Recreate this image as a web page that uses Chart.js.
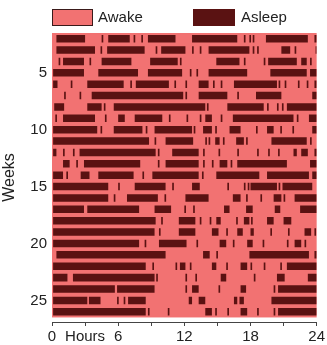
<!DOCTYPE html>
<html lang="en">
<head>
  <meta charset="UTF-8">
  <title>Sleep / Wake Actogram</title>
  <script src="https://cdn.jsdelivr.net/npm/chart.js"></script>
  <style>
    html, body {
      margin: 0;
      padding: 0;
      background: #fff;
    }

    .chart-box {
      width: 327px;
      height: 345px;
    }
  </style>
</head>
<body>

  <div class="chart-box">
    <canvas id="sleepChart"></canvas>
  </div>

  <script>
    // weeks shown as rows (top row is week 2)
    const weeks = [2, 3, 4, 5, 6, 7, 8, 9, 10, 11, 12, 13, 14, 15, 16, 17, 18, 19, 20, 21, 22, 23, 24, 25, 26];

    // asleep periods per week, [start hour, end hour]
    const asleep = [
      [[0.4,3.0],[4.5,4.65],[5.1,7.05],[7.4,7.55],[8.1,8.25],[8.7,11.2],[12.7,16.8],[17.4,17.55],[17.9,18.05],[18.2,18.35],[19.4,23.2],[23.8,24]],
      [[0.4,3.9],[4.4,4.55],[5.0,8.4],[9.4,9.55],[9.9,12.1],[12.7,12.85],[13.4,13.55],[14.2,17.9],[18.2,18.35],[18.6,18.75],[20.8,21.6],[22.0,22.15],[23.9,24]],
      [[0.6,0.75],[1.0,2.9],[3.4,3.55],[4.5,7.2],[8.9,11.4],[11.6,11.75],[14.9,17.0],[17.4,17.55],[19.2,19.35],[19.6,22.2],[22.6,23.1],[23.4,23.55]],
      [[0.1,2.9],[4.2,7.8],[8.7,11.8],[12.5,12.65],[13.1,13.25],[14.2,17.7],[19.8,23.1],[23.4,24]],
      [[0.1,0.5],[1.7,1.85],[3.2,6.5],[7.1,7.25],[7.6,10.6],[11.1,11.25],[12.1,12.25],[13.3,14.2],[14.6,14.75],[15.3,15.45],[16.5,20.4],[20.55,20.7],[21.1,21.25],[22.3,22.45],[23.1,23.25],[23.8,24]],
      [[1.1,1.25],[2.5,2.65],[3.6,11.9],[12.1,12.25],[13.3,15.9],[16.8,16.95],[18.5,20.8],[23.6,24]],
      [[0.2,1.1],[3.2,4.5],[4.7,4.85],[5.6,13.9],[14.05,14.2],[15.9,19.2],[19.5,19.65],[20.4,20.55],[20.85,21.0],[21.3,24]],
      [[0.3,0.45],[1.0,3.9],[4.8,4.95],[6.0,6.6],[7.5,10.0],[10.6,10.75],[12.2,12.35],[13.4,13.55],[13.9,14.5],[15.3,15.45],[16.4,21.9],[22.2,22.35],[23.3,24]],
      [[0.1,4.1],[4.4,4.55],[5.6,8.2],[8.5,8.65],[9.3,12.7],[12.85,13.0],[13.7,14.5],[14.8,14.95],[16.1,17.1],[18.5,18.65],[19.5,20.1],[20.7,20.85],[21.8,21.95],[23.6,24]],
      [[0.1,8.8],[9.3,9.45],[10.3,12.8],[13.9,14.05],[14.2,14.35],[14.8,15.2],[15.5,15.65],[16.7,17.4],[17.6,17.75],[19.9,23.1],[23.4,23.55]],
      [[0.1,0.4],[1.0,1.15],[1.9,2.05],[2.5,9.4],[9.6,9.75],[10.9,13.3],[13.7,13.85],[15.1,15.25],[16.8,16.95],[18.6,18.75],[19.6,19.75],[20.5,20.65],[21.9,22.2],[22.6,23.2],[23.8,24]],
      [[1.0,1.6],[2.2,2.35],[2.9,8.0],[9.6,9.75],[10.3,13.3],[13.7,13.85],[14.5,14.65],[15.2,15.9],[16.2,16.35],[16.8,21.3],[23.4,24]],
      [[0.1,1.0],[1.3,1.45],[2.6,3.4],[4.2,7.4],[8.2,8.35],[9.1,13.3],[13.6,13.75],[14.9,18.8],[19.5,23.3],[23.6,24]],
      [[0.1,5.1],[6.0,6.15],[7.5,10.3],[10.9,11.05],[12.7,13.4],[15.9,16.05],[17.4,17.55],[17.75,17.9],[18.0,20.4],[20.55,20.7],[20.9,23.6]],
      [[0.1,5.1],[5.6,5.75],[6.8,9.6],[10.2,10.35],[12.1,14.2],[16.4,17.1],[17.6,17.75],[18.9,19.05],[20.1,20.8],[21.0,21.15],[22.0,24]],
      [[0.1,2.9],[3.2,7.9],[9.3,10.8],[12.0,12.15],[12.8,12.95],[15.6,16.1],[17.6,18.2],[20.2,20.7],[22.5,24]],
      [[0.1,9.4],[9.9,10.05],[11.5,13.0],[13.4,13.55],[14.3,14.45],[14.9,15.3],[16.7,16.85],[17.4,17.9],[18.05,18.2],[19.5,20.1],[21.0,21.7]],
      [[0.1,9.3],[9.7,9.85],[11.5,13.0],[14.5,15.1],[15.8,15.95],[16.8,17.3],[18.0,18.3],[19.8,19.95],[21.4,21.55],[22.9,23.5],[23.8,23.95]],
      [[0.1,7.9],[8.4,8.55],[9.7,12.2],[13.1,13.25],[15.2,15.8],[16.4,16.55],[17.7,18.2],[19.1,19.25],[21.3,21.45],[22.0,22.6],[22.9,23.05]],
      [[0.4,10.3],[13.7,14.3],[14.9,15.05],[17.9,23.3],[23.8,24]],
      [[0.1,8.5],[9.1,9.25],[11.2,11.35],[11.6,12.1],[12.5,12.65],[14.5,14.9],[15.8,15.95],[17.1,17.7],[18.0,18.15],[19.2,19.35],[20.7,20.85],[21.3,24]],
      [[0.1,1.4],[1.9,9.3],[9.45,9.6],[12.1,12.25],[13.0,13.15],[15.3,15.8],[18.3,18.45],[20.4,21.1],[23.2,24]],
      [[0.1,5.7],[5.9,9.3],[12.1,12.25],[12.7,13.3],[15.1,15.25],[17.1,17.6],[20.1,20.25],[20.5,24]],
      [[0.1,3.2],[3.35,4.4],[5.9,6.05],[6.5,6.65],[6.9,8.5],[12.4,12.7],[13.3,13.9],[16.5,16.8],[17.0,17.4],[19.9,24]],
      [[0.1,8.5],[8.7,8.85],[10.5,10.65],[13.9,14.5],[14.8,14.95],[15.9,16.05],[17.1,17.7],[18.6,18.75],[20.1,20.25],[20.5,24]]
    ];

    const xTicks = [0, 3, 6, 9, 12, 15, 18, 21, 24];
    const xTickLabels = ['0', 'Hours', '6', '', '12', '', '18', '', '24'];
    const yTicks = [5, 10, 15, 20, 25];
    const legendLabels = ['Awake', 'Asleep'];

    const awakeColor = '#f27272';
    const asleepColor = '#5a1212';
    const fontFamily = '"Liberation Sans", Arial, sans-serif';

    // flatten to one point per sleep period
    const points = [];
    weeks.forEach((w, i) => {
      asleep[i].forEach(p => points.push({ x: p, y: w }));
    });

    // pink "awake" field behind the rows
    const awakeField = {
      id: 'awakeField',
      beforeDatasetsDraw(chart) {
        const { ctx, chartArea, scales } = chart;
        const top = scales.y.getPixelForValue(weeks[0] - 0.5);
        const bottom = scales.y.getPixelForValue(weeks[weeks.length - 1] + 0.5);
        ctx.save();
        ctx.fillStyle = awakeColor;
        ctx.fillRect(chartArea.left, top, chartArea.right - chartArea.left, bottom - top);
        ctx.restore();
      }
    };

    // legend boxes on top
    const topLegend = {
      id: 'topLegend',
      afterDraw(chart) {
        const ctx = chart.ctx;
        ctx.save();
        ctx.fillStyle = awakeColor;
        ctx.fillRect(52, 9, 41, 17);
        ctx.strokeStyle = '#3a1a1a';
        ctx.lineWidth = 1;
        ctx.strokeRect(52.5, 9.5, 40, 16);
        ctx.fillStyle = asleepColor;
        ctx.fillRect(193, 9, 42, 17);
        ctx.fillStyle = '#222';
        ctx.font = '15px ' + fontFamily;
        ctx.textBaseline = 'middle';
        ctx.fillText(legendLabels[0], 98, 18);
        ctx.fillText(legendLabels[1], 241, 18);
        ctx.restore();
      }
    };

    const sleepChart = new Chart(document.getElementById('sleepChart'), {
      type: 'bar',
      data: {
        datasets: [{
          label: legendLabels[1],
          data: points,
          backgroundColor: asleepColor,
          borderWidth: 0,
          barPercentage: 0.66,
          categoryPercentage: 1
        }]
      },
      options: {
        indexAxis: 'y',
        responsive: true,
        maintainAspectRatio: false,
        animation: false,
        layout: {
          padding: { top: 33, right: 5, bottom: 0, left: 0 }
        },
        scales: {
          x: {
            type: 'linear',
            min: 0,
            max: 24,
            afterBuildTicks: scale => {
              scale.ticks = xTicks.map(v => ({ value: v }));
            },
            afterFit: scale => {
              scale.height = 23;
            },
            ticks: {
              autoSkip: false,
              maxRotation: 0,
              padding: 2,
              color: '#222',
              font: { family: fontFamily, size: 15 },
              callback: (value) => xTickLabels[xTicks.indexOf(value)]
            },
            grid: {
              drawOnChartArea: false,
              tickLength: 4,
              color: '#444'
            },
            border: { color: '#444' }
          },
          y: {
            type: 'linear',
            reverse: true,
            offset: false,
            min: 1.5,
            max: 26.9,
            afterBuildTicks: scale => {
              scale.ticks = yTicks.map(v => ({ value: v }));
            },
            afterFit: scale => {
              scale.width = 52;
            },
            ticks: {
              padding: 5,
              color: '#222',
              font: { family: fontFamily, size: 15 }
            },
            grid: { display: false, drawTicks: false, offset: false },
            border: { display: false },
            title: {
              display: true,
              text: 'Weeks',
              color: '#222',
              padding: 0,
              font: { family: fontFamily, size: 16 }
            }
          }
        },
        plugins: {
          legend: { display: false },
          tooltip: { enabled: false }
        }
      },
      plugins: [awakeField, topLegend]
    });
  </script>

</body>
</html>
